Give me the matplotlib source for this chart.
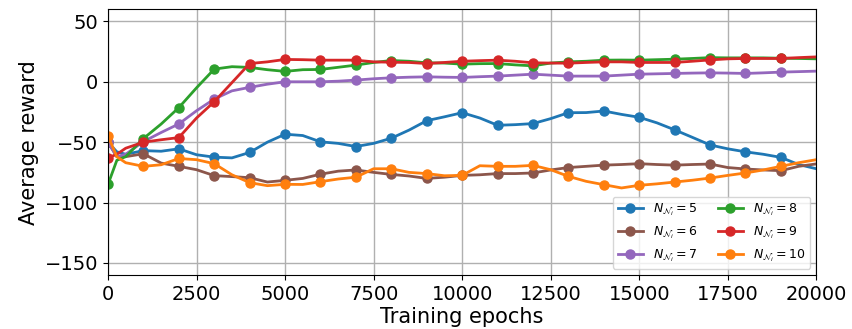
import matplotlib
matplotlib.use("Agg")
import matplotlib.pyplot as plt
import numpy as np

epochs = [0, 250, 500, 1000, 1500, 2000, 2500, 3000, 3500, 4000, 4500, 5000, 5500, 6000, 6500,
          7000, 7500, 8000, 8500, 9000, 9500, 10000, 10500, 11000, 11500, 12000, 12500,
          13000, 13500, 14000, 14500, 15000, 15500, 16000, 16500, 17000, 17500, 18000,
          18500, 19000, 19500, 20000]

n5 = [-50, -58, -60, -57, -57.5, -55.5, -60.4, -62.4, -63, -58.5, -50, -43.4, -44.5, -49.7, -51,
      -53.6, -51, -46.7, -40, -32.2, -29, -25.6, -30, -36, -35.5, -34.6, -30.5,
      -25.6, -25.5, -24.2, -27, -29.4, -34, -39.8, -46, -52.3, -55.5, -58,
      -60, -62.6, -68.5, -72]
n6 = [-50, -62, -62, -59.6, -67.3, -70, -72.8, -77.7, -78.5, -79.4, -83, -81.6, -80, -76.5, -74,
      -73, -75, -76.7, -78, -80, -79, -77.5, -77, -76, -76, -75.5, -73,
      -71, -70, -69, -68.5, -67.8, -68.5, -69, -68.5, -68.1, -71, -72.2,
      -73, -73.6, -70, -68]
n7 = [-50, -62, -60, -49.5, -42, -34.9, -24, -14.3, -7.5, -4.6, -2, 0, 0, 0, 0.5,
      1.4, 2.5, 3.3, 3.8, 4.1, 3.8, 3.6, 4.2, 4.7, 5.5, 6.3, 5.5,
      4.7, 4.7, 4.7, 5.5, 6.3, 6.6, 6.9, 7.2, 7.4, 7.2, 6.9,
      7.4, 8, 8.4, 8.8]
n8 = [-85, -65, -62, -47, -35, -21.4, -5, 10.5, 12.5, 11.9, 10, 8.6, 10, 10.2, 12,
      13.8, 16, 17.6, 17, 15.7, 15.5, 14.6, 15, 15.1, 14, 13.2, 15.5,
      16.5, 17, 17.9, 18, 17.9, 18.3, 18.7, 19.3, 20, 19.8, 19.8,
      19.8, 19.5, 19.3, 19]
n9 = [-63, -60, -55, -50, -48, -46.2, -30, -16.5, -0.7, 15.1, 16.5, 18.5, 18.3, 17.9, 17.9,
      17.9, 16.5, 16.2, 16, 15.1, 16, 17, 17.5, 17.9, 17, 15.7, 15.5,
      15.4, 16, 16.5, 16.5, 16, 16, 16, 17, 18.1, 19, 19.3,
      19.3, 19.3, 20, 20.6]
n10 = [-44.8, -62, -67, -70, -68.7, -63.5, -64.5, -67.8, -77, -83.5, -86, -84.9, -85, -82.7, -80.5,
       -79, -72, -72, -75, -76, -77.8, -77.5, -69.5, -70, -70, -69.2, -72.8,
       -78.3, -82.4, -85.2, -87.9, -85.7, -84.5, -83, -81.5, -79.7, -77.5, -75.5,
       -73, -70, -67, -64.5]

series = [
    (n5, "tab:blue", r"$N_{\mathcal{N}_i}=5$"),
    (n6, "tab:brown", r"$N_{\mathcal{N}_i}=6$"),
    (n7, "tab:purple", r"$N_{\mathcal{N}_i}=7$"),
    (n8, "tab:green", r"$N_{\mathcal{N}_i}=8$"),
    (n9, "tab:red", r"$N_{\mathcal{N}_i}=9$"),
    (n10, "tab:orange", r"$N_{\mathcal{N}_i}=10$"),
]

fig = plt.figure(figsize=(8.53, 3.29), dpi=100)
ax = fig.add_axes([0.1266, 0.164, 0.8304, 0.8077])

mark_idx = [i for i, e in enumerate(epochs) if e % 1000 == 0 and e < 20000]
for vals, c, lab in series:
    ax.plot(epochs, vals, color=c, lw=2, marker="o", markersize=6.5,
            markevery=mark_idx, label=lab)

ax.set_xlim(0, 20000)
ax.set_ylim(-160, 60)
ax.set_xticks(np.arange(0, 20001, 2500))
ax.set_yticks([-150, -100, -50, 0, 50])
ax.grid(True, color="#b0b0b0", lw=1)
ax.tick_params(labelsize=14)
ax.set_xlabel("Training epochs", fontsize=15, labelpad=2)
ax.set_ylabel("Average reward", fontsize=15)
ax.legend(ncol=2, loc="lower right", fontsize=9, columnspacing=1.6, handlelength=2.0)

fig.savefig("out.png", dpi=100)
